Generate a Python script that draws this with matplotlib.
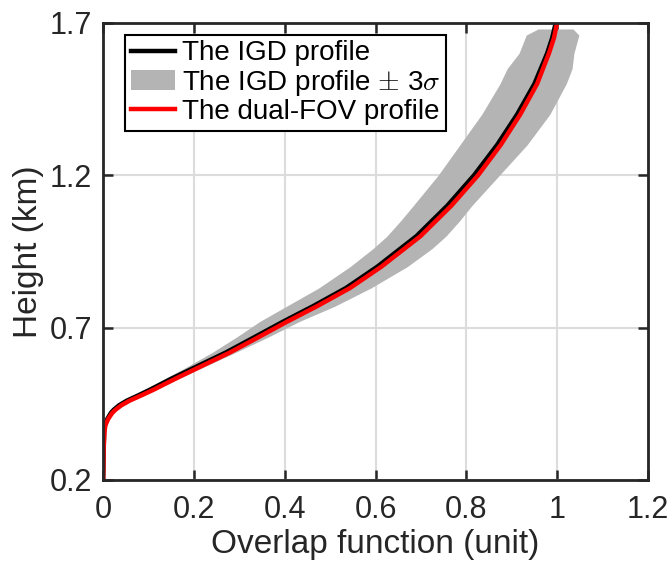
import numpy as np
import matplotlib
matplotlib.use("Agg")
import matplotlib.pyplot as plt

plt.rcParams['font.family'] = ['Liberation Sans', 'DejaVu Sans']
plt.rcParams['mathtext.fontset'] = 'cm'

# heights (km) for the two profiles
height = [0.2, 0.3, 0.36, 0.38, 0.40, 0.42, 0.43, 0.445, 0.46, 0.478, 0.496, 0.532, 0.568, 0.618, 0.67,
          0.72, 0.77, 0.83, 0.90, 1.0, 1.1, 1.2, 1.3, 1.4, 1.5, 1.6, 1.65, 1.7]
# IGD profile
igd = [0.0, 0.001, 0.002, 0.004, 0.009, 0.017, 0.023, 0.035, 0.052, 0.078, 0.103, 0.15, 0.2, 0.27, 0.335,
       0.397, 0.462, 0.535, 0.604, 0.69, 0.758, 0.817, 0.868, 0.912, 0.95, 0.978, 0.989, 0.997]
# dual-FOV profile
dual = [0.0, 0.001, 0.003, 0.005, 0.011, 0.02, 0.027, 0.04, 0.058, 0.085, 0.111, 0.159, 0.209, 0.279, 0.344,
        0.406, 0.471, 0.544, 0.613, 0.699, 0.767, 0.826, 0.876, 0.919, 0.956, 0.982, 0.993, 1.0]

# IGD +/- 3 sigma envelope
band_h = [0.2, 0.36, 0.40, 0.43, 0.46, 0.50, 0.57, 0.62, 0.67, 0.72, 0.77, 0.83, 0.90, 0.96, 1.0,
          1.05, 1.1, 1.2, 1.3, 1.4, 1.5, 1.55, 1.6, 1.66, 1.68]
band_lo = [0.0, 0.002, 0.007, 0.018, 0.047, 0.096, 0.183, 0.242, 0.295, 0.345, 0.404, 0.475, 0.544, 0.595, 0.625,
           0.655, 0.683, 0.738, 0.786, 0.834, 0.874, 0.89, 0.916, 0.932, 0.958]
band_hi = [0.001, 0.003, 0.012, 0.029, 0.064, 0.12, 0.221, 0.294, 0.365, 0.432, 0.51, 0.59, 0.67, 0.725, 0.755,
           0.785, 0.812, 0.873, 0.934, 0.984, 1.02, 1.033, 1.037, 1.048, 1.035]

fig = plt.figure(figsize=(6.7, 5.72), dpi=100)
ax = fig.add_axes([0.154, 0.161, 0.813, 0.799])

ax.fill_betweenx(band_h, band_lo, band_hi, color='#b4b4b4', lw=0, label=r'The IGD profile $\pm$ 3$\sigma$')
ax.plot(igd, height, color='black', lw=3.2, label='The IGD profile')
ax.plot(dual, height, color='red', lw=3.2, label='The dual-FOV profile')

ax.set_xlim(0, 1.2)
ax.set_ylim(0.2, 1.7)
ax.set_xticks([0, 0.2, 0.4, 0.6, 0.8, 1, 1.2])
ax.set_xticklabels(['0', '0.2', '0.4', '0.6', '0.8', '1', '1.2'])
ax.set_yticks([0.2, 0.7, 1.2, 1.7])
ax.grid(True, color='#dcdcdc', lw=1.5)
ax.set_axisbelow(True)
ax.tick_params(direction='in', top=True, right=True, labelsize=22, width=1.8, length=7,
               colors='#262626')
ax.tick_params(axis='x', pad=11)
ax.tick_params(axis='y', pad=8)
for s in ax.spines.values():
    s.set_linewidth(2)
    s.set_color('#262626')
ax.set_xlabel('Overlap function (unit)', fontsize=24, color='#262626', labelpad=3)
ax.set_ylabel('Height (km)', fontsize=24, color='#262626', labelpad=4)

h, l = ax.get_legend_handles_labels()
order = [1, 0, 2]
leg = ax.legend([h[i] for i in order], [l[i] for i in order], loc='upper left',
                bbox_to_anchor=(0.04, 0.974), borderaxespad=0, fontsize=20,
                fancybox=False, edgecolor='black', framealpha=1,
                handlelength=1.6, handletextpad=0.25, labelspacing=0.05, borderpad=0.2)
leg.get_frame().set_linewidth(1.5)

fig.savefig('out.png', dpi=100)
